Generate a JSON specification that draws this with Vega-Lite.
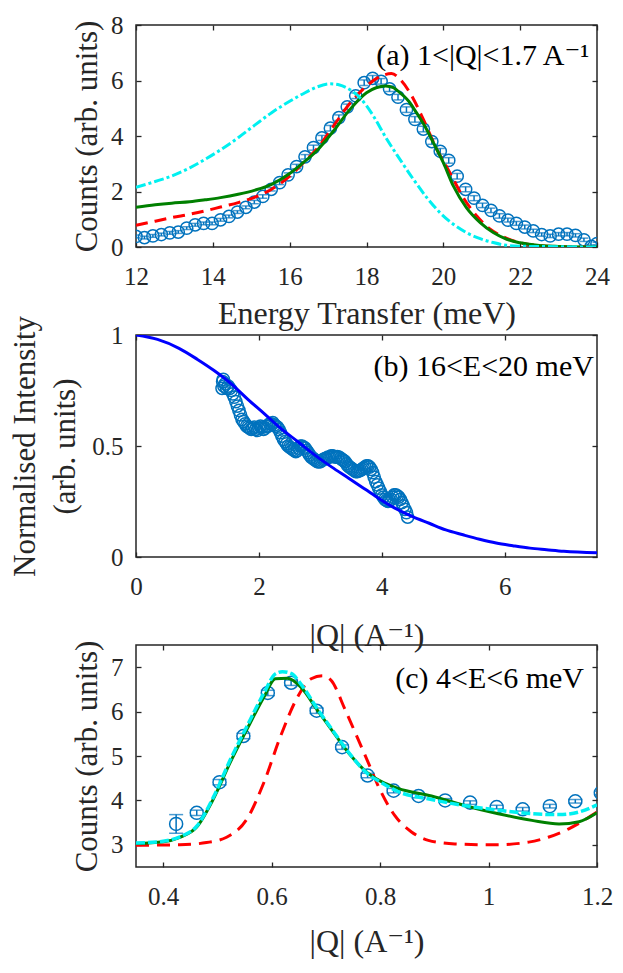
{
  "$schema": "https://vega.github.io/schema/vega-lite/v6.json",
  "background": "white",
  "padding": {"left": 8, "top": 12, "right": 5, "bottom": 5},
  "bounds": "flush",
  "spacing": 88,
  "config": {
    "view": {"stroke": "#262626", "strokeWidth": 1.5},
    "font": "Liberation Serif, Times New Roman, DejaVu Serif, serif",
    "text": {"font": "Liberation Serif, Times New Roman, DejaVu Serif, serif"},
    "axis": {
      "grid": false,
      "domain": false,
      "tickColor": "#262626",
      "tickSize": -5,
      "tickWidth": 1.3,
      "labelFont": "Liberation Serif, Times New Roman, DejaVu Serif, serif",
      "labelFontSize": 25,
      "labelColor": "#262626",
      "labelFlush": false,
      "labelOverlap": false,
      "titleFont": "Liberation Serif, Times New Roman, DejaVu Serif, serif",
      "titleFontWeight": "normal",
      "titleColor": "#262626",
      "titleBaseline": "middle"
    },
    "axisX": {"labelPadding": 22, "titleFontSize": 32},
    "axisY": {"labelPadding": 18, "titleFontSize": 31}
  },
  "datasets": {
    "a_pts": [
      {"E": 12.00, "I": 0.38, "err": 0.05}, {"E": 12.22, "I": 0.34, "err": 0.05},
      {"E": 12.44, "I": 0.40, "err": 0.05}, {"E": 12.66, "I": 0.45, "err": 0.05},
      {"E": 12.88, "I": 0.51, "err": 0.05}, {"E": 13.10, "I": 0.54, "err": 0.05},
      {"E": 13.32, "I": 0.68, "err": 0.05}, {"E": 13.54, "I": 0.80, "err": 0.05},
      {"E": 13.76, "I": 0.85, "err": 0.05}, {"E": 13.98, "I": 0.85, "err": 0.05},
      {"E": 14.20, "I": 0.98, "err": 0.05}, {"E": 14.42, "I": 1.10, "err": 0.05},
      {"E": 14.64, "I": 1.26, "err": 0.05}, {"E": 14.86, "I": 1.43, "err": 0.05},
      {"E": 15.08, "I": 1.62, "err": 0.06}, {"E": 15.30, "I": 1.82, "err": 0.06},
      {"E": 15.52, "I": 2.08, "err": 0.06}, {"E": 15.74, "I": 2.32, "err": 0.07},
      {"E": 15.96, "I": 2.60, "err": 0.07}, {"E": 16.18, "I": 2.90, "err": 0.08},
      {"E": 16.40, "I": 3.25, "err": 0.08}, {"E": 16.62, "I": 3.58, "err": 0.09},
      {"E": 16.84, "I": 3.93, "err": 0.09}, {"E": 17.06, "I": 4.28, "err": 0.1},
      {"E": 17.28, "I": 4.66, "err": 0.1}, {"E": 17.50, "I": 5.05, "err": 0.1},
      {"E": 17.72, "I": 5.45, "err": 0.1}, {"E": 17.94, "I": 5.92, "err": 0.1},
      {"E": 18.16, "I": 6.08, "err": 0.1}, {"E": 18.38, "I": 5.97, "err": 0.1},
      {"E": 18.60, "I": 5.70, "err": 0.1}, {"E": 18.82, "I": 5.40, "err": 0.1},
      {"E": 19.04, "I": 4.95, "err": 0.1}, {"E": 19.26, "I": 4.60, "err": 0.1},
      {"E": 19.48, "I": 4.25, "err": 0.1}, {"E": 19.70, "I": 3.80, "err": 0.1},
      {"E": 19.92, "I": 3.45, "err": 0.1}, {"E": 20.14, "I": 3.12, "err": 0.1},
      {"E": 20.36, "I": 2.55, "err": 0.1}, {"E": 20.58, "I": 2.08, "err": 0.09},
      {"E": 20.80, "I": 1.76, "err": 0.09}, {"E": 21.02, "I": 1.50, "err": 0.08},
      {"E": 21.24, "I": 1.32, "err": 0.08}, {"E": 21.46, "I": 1.12, "err": 0.08},
      {"E": 21.68, "I": 0.97, "err": 0.07}, {"E": 21.90, "I": 0.85, "err": 0.07},
      {"E": 22.12, "I": 0.72, "err": 0.07}, {"E": 22.34, "I": 0.58, "err": 0.06},
      {"E": 22.56, "I": 0.45, "err": 0.06}, {"E": 22.78, "I": 0.40, "err": 0.06},
      {"E": 23.00, "I": 0.46, "err": 0.06}, {"E": 23.22, "I": 0.46, "err": 0.06},
      {"E": 23.44, "I": 0.42, "err": 0.06}, {"E": 23.66, "I": 0.26, "err": 0.06},
      {"E": 23.85, "I": 0.02, "err": 0.05}, {"E": 24.00, "I": 0.12, "err": 0.05}
    ],
    "a_cyan": [
      {"E": 12.0, "I": 2.15}, {"E": 12.5, "I": 2.36}, {"E": 12.93, "I": 2.56},
      {"E": 13.4, "I": 2.85}, {"E": 13.8, "I": 3.16}, {"E": 14.2, "I": 3.5},
      {"E": 14.66, "I": 3.94}, {"E": 15.1, "I": 4.4}, {"E": 15.53, "I": 4.84},
      {"E": 16.0, "I": 5.25}, {"E": 16.4, "I": 5.56}, {"E": 16.7, "I": 5.76},
      {"E": 17.05, "I": 5.88}, {"E": 17.3, "I": 5.84}, {"E": 17.48, "I": 5.74},
      {"E": 17.83, "I": 5.38}, {"E": 18.18, "I": 4.72}, {"E": 18.53, "I": 3.88},
      {"E": 18.87, "I": 3.16}, {"E": 19.22, "I": 2.44}, {"E": 19.57, "I": 1.78},
      {"E": 19.91, "I": 1.24}, {"E": 20.26, "I": 0.82}, {"E": 20.6, "I": 0.52},
      {"E": 20.96, "I": 0.30}, {"E": 21.3, "I": 0.16}, {"E": 21.6, "I": 0.07},
      {"E": 22.0, "I": 0.03}, {"E": 23.0, "I": 0.01}, {"E": 24.0, "I": 0.0}
    ],
    "a_green": [
      {"E": 12.0, "I": 1.43}, {"E": 12.5, "I": 1.52}, {"E": 12.93, "I": 1.58},
      {"E": 13.4, "I": 1.63}, {"E": 13.8, "I": 1.7}, {"E": 14.2, "I": 1.78},
      {"E": 14.66, "I": 1.9}, {"E": 15.1, "I": 2.05}, {"E": 15.53, "I": 2.26},
      {"E": 16.0, "I": 2.65}, {"E": 16.3, "I": 2.98}, {"E": 16.7, "I": 3.46},
      {"E": 17.14, "I": 4.18}, {"E": 17.57, "I": 4.96}, {"E": 18.0, "I": 5.56},
      {"E": 18.25, "I": 5.74}, {"E": 18.5, "I": 5.8}, {"E": 18.7, "I": 5.74},
      {"E": 18.87, "I": 5.56}, {"E": 19.1, "I": 5.25}, {"E": 19.3, "I": 4.84},
      {"E": 19.52, "I": 4.35}, {"E": 19.74, "I": 3.76}, {"E": 20.0, "I": 3.04},
      {"E": 20.26, "I": 2.2}, {"E": 20.6, "I": 1.42}, {"E": 20.96, "I": 0.88},
      {"E": 21.3, "I": 0.52}, {"E": 21.65, "I": 0.28}, {"E": 22.0, "I": 0.15},
      {"E": 22.5, "I": 0.05}, {"E": 23.0, "I": 0.02}, {"E": 24.0, "I": 0.0}
    ],
    "a_red": [
      {"E": 12.0, "I": 0.78}, {"E": 12.5, "I": 0.93}, {"E": 12.93, "I": 1.06},
      {"E": 13.4, "I": 1.18}, {"E": 13.8, "I": 1.30}, {"E": 14.2, "I": 1.44},
      {"E": 14.66, "I": 1.60}, {"E": 15.1, "I": 1.8}, {"E": 15.53, "I": 2.08},
      {"E": 16.0, "I": 2.55}, {"E": 16.4, "I": 3.1}, {"E": 16.7, "I": 3.52},
      {"E": 17.14, "I": 4.36}, {"E": 17.57, "I": 5.18}, {"E": 18.0, "I": 5.8},
      {"E": 18.35, "I": 6.14}, {"E": 18.65, "I": 6.25}, {"E": 18.9, "I": 6.0},
      {"E": 19.13, "I": 5.56}, {"E": 19.48, "I": 4.6}, {"E": 19.83, "I": 3.52},
      {"E": 20.17, "I": 2.68}, {"E": 20.52, "I": 1.78}, {"E": 20.87, "I": 1.12},
      {"E": 21.22, "I": 0.64}, {"E": 21.56, "I": 0.37}, {"E": 22.0, "I": 0.15},
      {"E": 22.5, "I": 0.05}, {"E": 23.0, "I": 0.01}, {"E": 24.0, "I": 0.0}
    ],
    "a_lbl": [{"E": 23.8, "I": 6.88, "t": "(a) 1<|Q|<1.7 A⁻¹"}],
    "b_pts": [
      {"Q": 1.40, "I": 0.76}, {"Q": 1.41, "I": 0.79}, {"Q": 1.42, "I": 0.80},
      {"Q": 1.43, "I": 0.77}, {"Q": 1.45, "I": 0.78}, {"Q": 1.475, "I": 0.76},
      {"Q": 1.50, "I": 0.77}, {"Q": 1.525, "I": 0.76}, {"Q": 1.55, "I": 0.75},
      {"Q": 1.575, "I": 0.735}, {"Q": 1.60, "I": 0.72}, {"Q": 1.625, "I": 0.70},
      {"Q": 1.65, "I": 0.68}, {"Q": 1.675, "I": 0.66}, {"Q": 1.70, "I": 0.64},
      {"Q": 1.725, "I": 0.62}, {"Q": 1.75, "I": 0.61}, {"Q": 1.775, "I": 0.60},
      {"Q": 1.80, "I": 0.59}, {"Q": 1.825, "I": 0.585}, {"Q": 1.85, "I": 0.58},
      {"Q": 1.875, "I": 0.575}, {"Q": 1.90, "I": 0.58}, {"Q": 1.925, "I": 0.585},
      {"Q": 1.95, "I": 0.575}, {"Q": 1.975, "I": 0.57}, {"Q": 2.00, "I": 0.58},
      {"Q": 2.025, "I": 0.59}, {"Q": 2.05, "I": 0.585}, {"Q": 2.075, "I": 0.575},
      {"Q": 2.10, "I": 0.58}, {"Q": 2.125, "I": 0.59}, {"Q": 2.15, "I": 0.59},
      {"Q": 2.175, "I": 0.60}, {"Q": 2.20, "I": 0.60}, {"Q": 2.225, "I": 0.605},
      {"Q": 2.25, "I": 0.595}, {"Q": 2.275, "I": 0.59}, {"Q": 2.30, "I": 0.585},
      {"Q": 2.325, "I": 0.575}, {"Q": 2.35, "I": 0.56}, {"Q": 2.375, "I": 0.545},
      {"Q": 2.40, "I": 0.53}, {"Q": 2.425, "I": 0.52}, {"Q": 2.45, "I": 0.51},
      {"Q": 2.475, "I": 0.50}, {"Q": 2.50, "I": 0.495}, {"Q": 2.525, "I": 0.49},
      {"Q": 2.55, "I": 0.485}, {"Q": 2.575, "I": 0.48}, {"Q": 2.60, "I": 0.475},
      {"Q": 2.625, "I": 0.48}, {"Q": 2.65, "I": 0.49}, {"Q": 2.675, "I": 0.50},
      {"Q": 2.70, "I": 0.50}, {"Q": 2.725, "I": 0.495}, {"Q": 2.75, "I": 0.49},
      {"Q": 2.775, "I": 0.48}, {"Q": 2.80, "I": 0.47}, {"Q": 2.825, "I": 0.46},
      {"Q": 2.85, "I": 0.45}, {"Q": 2.875, "I": 0.445}, {"Q": 2.90, "I": 0.44},
      {"Q": 2.925, "I": 0.435}, {"Q": 2.95, "I": 0.43}, {"Q": 2.975, "I": 0.428},
      {"Q": 3.00, "I": 0.43}, {"Q": 3.025, "I": 0.435}, {"Q": 3.05, "I": 0.44},
      {"Q": 3.075, "I": 0.443}, {"Q": 3.10, "I": 0.445}, {"Q": 3.125, "I": 0.45},
      {"Q": 3.15, "I": 0.45}, {"Q": 3.175, "I": 0.455}, {"Q": 3.20, "I": 0.455},
      {"Q": 3.225, "I": 0.452}, {"Q": 3.25, "I": 0.45}, {"Q": 3.275, "I": 0.452},
      {"Q": 3.30, "I": 0.45}, {"Q": 3.325, "I": 0.445}, {"Q": 3.35, "I": 0.44},
      {"Q": 3.375, "I": 0.435}, {"Q": 3.40, "I": 0.43}, {"Q": 3.425, "I": 0.42},
      {"Q": 3.45, "I": 0.41}, {"Q": 3.475, "I": 0.405}, {"Q": 3.50, "I": 0.40},
      {"Q": 3.525, "I": 0.395}, {"Q": 3.55, "I": 0.39}, {"Q": 3.575, "I": 0.385},
      {"Q": 3.60, "I": 0.385}, {"Q": 3.625, "I": 0.388}, {"Q": 3.65, "I": 0.39},
      {"Q": 3.675, "I": 0.395}, {"Q": 3.70, "I": 0.40}, {"Q": 3.725, "I": 0.405},
      {"Q": 3.75, "I": 0.41}, {"Q": 3.775, "I": 0.41}, {"Q": 3.80, "I": 0.405},
      {"Q": 3.825, "I": 0.395}, {"Q": 3.85, "I": 0.38}, {"Q": 3.875, "I": 0.36},
      {"Q": 3.90, "I": 0.34}, {"Q": 3.925, "I": 0.325}, {"Q": 3.95, "I": 0.31},
      {"Q": 3.975, "I": 0.295}, {"Q": 4.00, "I": 0.28}, {"Q": 4.025, "I": 0.27},
      {"Q": 4.05, "I": 0.26}, {"Q": 4.075, "I": 0.255}, {"Q": 4.10, "I": 0.25},
      {"Q": 4.125, "I": 0.255}, {"Q": 4.15, "I": 0.26}, {"Q": 4.175, "I": 0.27},
      {"Q": 4.20, "I": 0.28}, {"Q": 4.225, "I": 0.28}, {"Q": 4.25, "I": 0.275},
      {"Q": 4.275, "I": 0.27}, {"Q": 4.30, "I": 0.26}, {"Q": 4.325, "I": 0.245},
      {"Q": 4.35, "I": 0.23}, {"Q": 4.375, "I": 0.215}, {"Q": 4.40, "I": 0.20},
      {"Q": 4.42, "I": 0.18}
    ],
    "b_fit": [
      {"Q": 0.0, "I": 1.0}, {"Q": 0.35, "I": 0.98}, {"Q": 0.7, "I": 0.94},
      {"Q": 1.0, "I": 0.89}, {"Q": 1.27, "I": 0.84}, {"Q": 1.55, "I": 0.78},
      {"Q": 1.82, "I": 0.71}, {"Q": 2.09, "I": 0.645}, {"Q": 2.36, "I": 0.578},
      {"Q": 2.64, "I": 0.518}, {"Q": 2.91, "I": 0.459}, {"Q": 3.18, "I": 0.406},
      {"Q": 3.46, "I": 0.355}, {"Q": 3.73, "I": 0.305}, {"Q": 3.95, "I": 0.264},
      {"Q": 4.22, "I": 0.219}, {"Q": 4.5, "I": 0.182}, {"Q": 4.77, "I": 0.152},
      {"Q": 5.04, "I": 0.122}, {"Q": 5.32, "I": 0.10}, {"Q": 5.59, "I": 0.08},
      {"Q": 5.86, "I": 0.063}, {"Q": 6.13, "I": 0.051}, {"Q": 6.41, "I": 0.04},
      {"Q": 6.68, "I": 0.033}, {"Q": 6.96, "I": 0.026}, {"Q": 7.5, "I": 0.019}
    ],
    "b_lbl": [{"Q": 7.45, "I": 0.857, "t": "(b) 16<E<20 meV"}],
    "c_pts": [
      {"Q": 0.424, "C": 3.47, "err": 0.21}, {"Q": 0.462, "C": 3.72, "err": 0.06},
      {"Q": 0.504, "C": 4.41, "err": 0.06}, {"Q": 0.548, "C": 5.45, "err": 0.06},
      {"Q": 0.593, "C": 6.42, "err": 0.06}, {"Q": 0.636, "C": 6.65, "err": 0.06},
      {"Q": 0.683, "C": 6.02, "err": 0.06}, {"Q": 0.730, "C": 5.20, "err": 0.05},
      {"Q": 0.777, "C": 4.56, "err": 0.05}, {"Q": 0.825, "C": 4.22, "err": 0.05},
      {"Q": 0.871, "C": 4.10, "err": 0.04}, {"Q": 0.920, "C": 4.00, "err": 0.04},
      {"Q": 0.966, "C": 3.95, "err": 0.04}, {"Q": 1.015, "C": 3.85, "err": 0.04},
      {"Q": 1.063, "C": 3.80, "err": 0.04}, {"Q": 1.113, "C": 3.87, "err": 0.04},
      {"Q": 1.160, "C": 3.98, "err": 0.04}, {"Q": 1.207, "C": 4.17, "err": 0.04}
    ],
    "c_green": [
      {"Q": 0.35, "C": 3.03}, {"Q": 0.4, "C": 3.07}, {"Q": 0.431, "C": 3.17},
      {"Q": 0.462, "C": 3.40}, {"Q": 0.493, "C": 4.04}, {"Q": 0.524, "C": 4.86},
      {"Q": 0.555, "C": 5.61}, {"Q": 0.586, "C": 6.33}, {"Q": 0.607, "C": 6.74},
      {"Q": 0.629, "C": 6.75}, {"Q": 0.654, "C": 6.55}, {"Q": 0.685, "C": 6.02},
      {"Q": 0.716, "C": 5.5}, {"Q": 0.746, "C": 5.01}, {"Q": 0.777, "C": 4.62},
      {"Q": 0.80, "C": 4.44}, {"Q": 0.833, "C": 4.27}, {"Q": 0.895, "C": 4.1},
      {"Q": 0.957, "C": 3.88}, {"Q": 1.018, "C": 3.7}, {"Q": 1.08, "C": 3.55},
      {"Q": 1.13, "C": 3.47}, {"Q": 1.167, "C": 3.52}, {"Q": 1.2, "C": 3.72}
    ],
    "c_cyan": [
      {"Q": 0.35, "C": 3.04}, {"Q": 0.4, "C": 3.08}, {"Q": 0.431, "C": 3.18},
      {"Q": 0.462, "C": 3.42}, {"Q": 0.493, "C": 4.08}, {"Q": 0.524, "C": 4.92},
      {"Q": 0.555, "C": 5.68}, {"Q": 0.586, "C": 6.42}, {"Q": 0.607, "C": 6.85},
      {"Q": 0.62, "C": 6.9}, {"Q": 0.636, "C": 6.86}, {"Q": 0.654, "C": 6.62},
      {"Q": 0.685, "C": 6.05}, {"Q": 0.716, "C": 5.52}, {"Q": 0.746, "C": 5.02},
      {"Q": 0.777, "C": 4.6}, {"Q": 0.80, "C": 4.42}, {"Q": 0.833, "C": 4.2},
      {"Q": 0.895, "C": 4.02}, {"Q": 0.957, "C": 3.88}, {"Q": 1.018, "C": 3.78},
      {"Q": 1.08, "C": 3.7}, {"Q": 1.13, "C": 3.68}, {"Q": 1.167, "C": 3.74},
      {"Q": 1.2, "C": 3.9}
    ],
    "c_red": [
      {"Q": 0.35, "C": 2.99}, {"Q": 0.431, "C": 3.0}, {"Q": 0.48, "C": 3.05},
      {"Q": 0.517, "C": 3.17}, {"Q": 0.555, "C": 3.59}, {"Q": 0.586, "C": 4.41},
      {"Q": 0.617, "C": 5.46}, {"Q": 0.648, "C": 6.33}, {"Q": 0.673, "C": 6.74},
      {"Q": 0.694, "C": 6.81}, {"Q": 0.71, "C": 6.7}, {"Q": 0.735, "C": 6.06},
      {"Q": 0.759, "C": 5.39}, {"Q": 0.78, "C": 4.8}, {"Q": 0.796, "C": 4.34},
      {"Q": 0.827, "C": 3.66}, {"Q": 0.858, "C": 3.29}, {"Q": 0.889, "C": 3.1},
      {"Q": 0.938, "C": 3.02}, {"Q": 1.012, "C": 3.0}, {"Q": 1.074, "C": 3.06},
      {"Q": 1.11, "C": 3.17}, {"Q": 1.148, "C": 3.36}, {"Q": 1.2, "C": 3.74}
    ],
    "c_lbl": [{"Q": 1.176, "C": 6.74, "t": "(c) 4<E<6 meV"}]
  },
  "vconcat": [
    {
      "width": 461,
      "height": 222,
      "layer": [
        {
          "data": {"name": "a_pts"},
          "mark": {"type": "errorbar", "ticks": {"size": 9, "thickness": 1.5}, "thickness": 1.5, "color": "#0072BD", "clip": true},
          "encoding": {
            "x": {"field": "E", "type": "quantitative", "scale": {"domain": [12, 24], "nice": false, "zero": false}, "axis": null},
            "y": {"field": "I", "type": "quantitative", "scale": {"domain": [0, 8], "nice": false}, "axis": null},
            "yError": {"field": "err"}
          }
        },
        {
          "data": {"name": "a_pts"},
          "mark": {"type": "point", "shape": "circle", "size": 150, "strokeWidth": 1.5, "filled": false, "color": "#0072BD", "opacity": 1, "clip": true},
          "encoding": {
            "x": {"field": "E", "type": "quantitative", "axis": {"orient": "bottom", "values": [12, 14, 16, 18, 20, 22, 24], "title": "Energy Transfer (meV)", "titleY": 66}},
            "y": {"field": "I", "type": "quantitative", "axis": {"orient": "left", "values": [0, 2, 4, 6, 8], "title": "Counts (arb. units)", "titleX": -49, "titleY": 111}}
          }
        },
        {
          "data": {"name": "a_red"},
          "mark": {"type": "line", "color": "#FF0000", "strokeWidth": 3, "strokeDash": [12, 7], "interpolate": "monotone", "clip": true},
          "encoding": {
            "x": {"field": "E", "type": "quantitative", "axis": null},
            "y": {"field": "I", "type": "quantitative", "axis": null}
          }
        },
        {
          "data": {"name": "a_green"},
          "mark": {"type": "line", "color": "#008000", "strokeWidth": 3, "interpolate": "monotone", "clip": true},
          "encoding": {
            "x": {"field": "E", "type": "quantitative", "axis": null},
            "y": {"field": "I", "type": "quantitative", "axis": null}
          }
        },
        {
          "data": {"name": "a_cyan"},
          "mark": {"type": "line", "color": "#00F0F0", "strokeWidth": 3, "strokeDash": [10, 3, 3, 3], "interpolate": "monotone", "clip": true},
          "encoding": {
            "x": {"field": "E", "type": "quantitative", "axis": null},
            "y": {"field": "I", "type": "quantitative", "axis": null}
          }
        },
        {
          "data": {"name": "a_lbl"},
          "mark": {"type": "text", "align": "right", "baseline": "middle", "fontSize": 30, "color": "#000000"},
          "encoding": {
            "x": {"field": "E", "type": "quantitative", "axis": {"orient": "top", "values": [12, 14, 16, 18, 20, 22, 24], "labels": false, "title": null}},
            "y": {"field": "I", "type": "quantitative", "axis": {"orient": "right", "values": [0, 2, 4, 6, 8], "labels": false, "title": null}},
            "text": {"field": "t"}
          }
        }
      ],
      "resolve": {"axis": {"x": "independent", "y": "independent"}}
    },
    {
      "width": 461,
      "height": 222,
      "layer": [
        {
          "data": {"name": "b_pts"},
          "mark": {"type": "point", "shape": "circle", "size": 150, "strokeWidth": 1.5, "filled": false, "color": "#0072BD", "opacity": 1, "clip": true},
          "encoding": {
            "x": {"field": "Q", "type": "quantitative", "scale": {"domain": [0, 7.5], "nice": false}, "axis": {"orient": "bottom", "values": [0, 2, 4, 6], "format": "~g", "title": "|Q| (A⁻¹)", "titleY": 78}},
            "y": {"field": "I", "type": "quantitative", "scale": {"domain": [0, 1], "nice": false}, "axis": {"orient": "left", "values": [0, 0.5, 1], "format": "~g", "title": ["Normalised Intensity", "(arb. units)"], "titleLineHeight": 40, "titleX": -111, "titleY": 111}}
          }
        },
        {
          "data": {"name": "b_fit"},
          "mark": {"type": "line", "color": "#0000FF", "strokeWidth": 3, "interpolate": "monotone", "clip": true},
          "encoding": {
            "x": {"field": "Q", "type": "quantitative", "axis": null},
            "y": {"field": "I", "type": "quantitative", "axis": null}
          }
        },
        {
          "data": {"name": "b_lbl"},
          "mark": {"type": "text", "align": "right", "baseline": "middle", "fontSize": 30, "color": "#000000"},
          "encoding": {
            "x": {"field": "Q", "type": "quantitative", "axis": {"orient": "top", "values": [0, 2, 4, 6], "labels": false, "title": null}},
            "y": {"field": "I", "type": "quantitative", "axis": {"orient": "right", "values": [0, 0.5, 1], "labels": false, "title": null}},
            "text": {"field": "t"}
          }
        }
      ],
      "resolve": {"axis": {"x": "independent", "y": "independent"}}
    },
    {
      "width": 461,
      "height": 222,
      "layer": [
        {
          "data": {"name": "c_pts"},
          "mark": {"type": "errorbar", "ticks": {"size": 14, "thickness": 1.5}, "thickness": 1.5, "color": "#0072BD", "clip": true},
          "encoding": {
            "x": {"field": "Q", "type": "quantitative", "scale": {"domain": [0.35, 1.2], "nice": false, "zero": false}, "axis": null},
            "y": {"field": "C", "type": "quantitative", "scale": {"domain": [2.5, 7.5], "nice": false, "zero": false}, "axis": null},
            "yError": {"field": "err"}
          }
        },
        {
          "data": {"name": "c_pts"},
          "mark": {"type": "point", "shape": "circle", "size": 170, "strokeWidth": 1.5, "filled": false, "color": "#0072BD", "opacity": 1, "clip": true},
          "encoding": {
            "x": {"field": "Q", "type": "quantitative", "axis": {"orient": "bottom", "values": [0.4, 0.6, 0.8, 1, 1.2], "format": "~g", "title": "|Q| (A⁻¹)", "titleY": 74}},
            "y": {"field": "C", "type": "quantitative", "axis": {"orient": "left", "values": [3, 4, 5, 6, 7], "title": "Counts (arb. units)", "titleX": -49, "titleY": 111}}
          }
        },
        {
          "data": {"name": "c_red"},
          "mark": {"type": "line", "color": "#FF0000", "strokeWidth": 3, "strokeDash": [13, 8], "interpolate": "monotone", "clip": true},
          "encoding": {
            "x": {"field": "Q", "type": "quantitative", "axis": null},
            "y": {"field": "C", "type": "quantitative", "axis": null}
          }
        },
        {
          "data": {"name": "c_green"},
          "mark": {"type": "line", "color": "#008000", "strokeWidth": 3, "interpolate": "monotone", "clip": true},
          "encoding": {
            "x": {"field": "Q", "type": "quantitative", "axis": null},
            "y": {"field": "C", "type": "quantitative", "axis": null}
          }
        },
        {
          "data": {"name": "c_cyan"},
          "mark": {"type": "line", "color": "#00F0F0", "strokeWidth": 3.5, "strokeDash": [9, 3], "interpolate": "monotone", "clip": true},
          "encoding": {
            "x": {"field": "Q", "type": "quantitative", "axis": null},
            "y": {"field": "C", "type": "quantitative", "axis": null}
          }
        },
        {
          "data": {"name": "c_lbl"},
          "mark": {"type": "text", "align": "right", "baseline": "middle", "fontSize": 30, "color": "#000000"},
          "encoding": {
            "x": {"field": "Q", "type": "quantitative", "axis": {"orient": "top", "values": [0.4, 0.6, 0.8, 1, 1.2], "labels": false, "title": null}},
            "y": {"field": "C", "type": "quantitative", "axis": {"orient": "right", "values": [3, 4, 5, 6, 7], "labels": false, "title": null}},
            "text": {"field": "t"}
          }
        }
      ],
      "resolve": {"axis": {"x": "independent", "y": "independent"}}
    }
  ]
}
